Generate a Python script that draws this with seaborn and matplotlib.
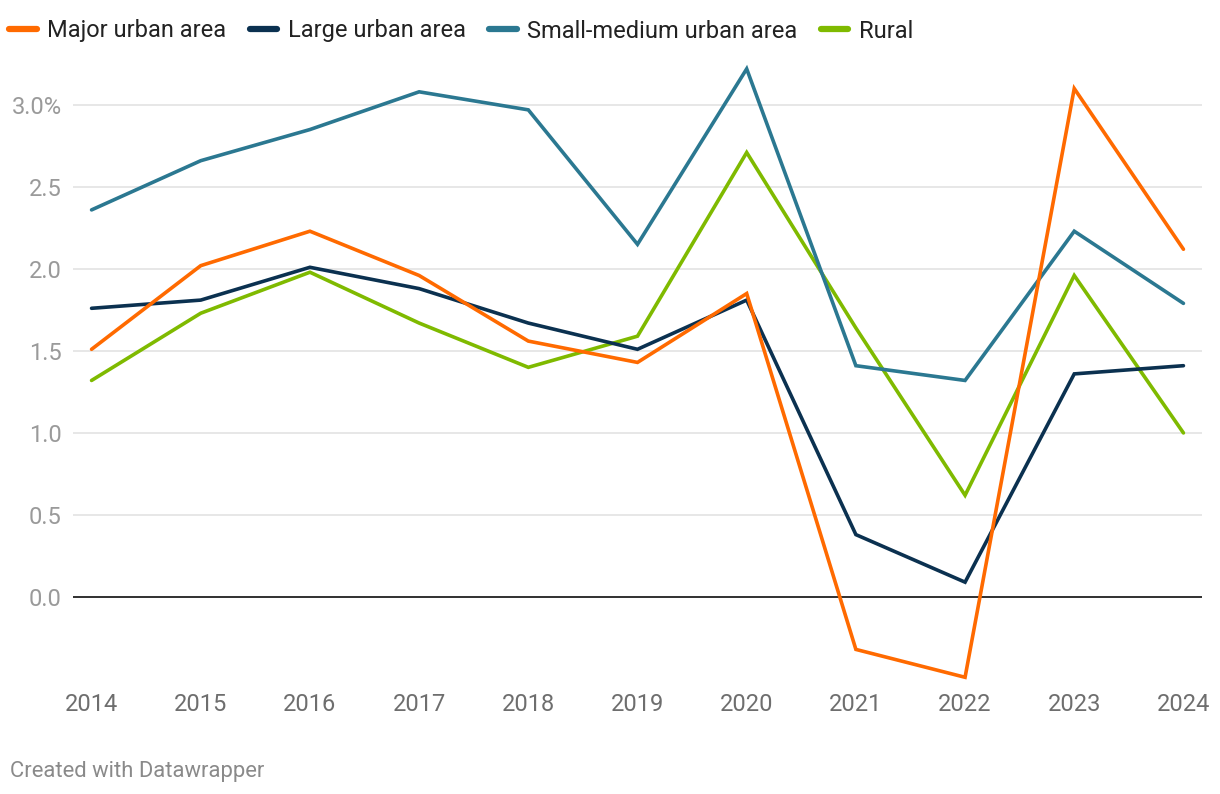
import pandas as pd
import matplotlib.pyplot as plt
import seaborn as sns
from matplotlib.lines import Line2D
from matplotlib.ticker import FuncFormatter

years = list(range(2014, 2025))
major_urban = [1.51, 2.02, 2.23, 1.96, 1.56, 1.43, 1.85, -0.32, -0.49, 3.10, 2.12]
large_urban = [1.76, 1.81, 2.01, 1.88, 1.67, 1.51, 1.81, 0.38, 0.09, 1.36, 1.41]
small_medium = [2.36, 2.66, 2.85, 3.08, 2.97, 2.15, 3.22, 1.41, 1.32, 2.23, 1.79]
rural = [1.32, 1.73, 1.98, 1.67, 1.40, 1.59, 2.71, 1.64, 0.62, 1.96, 1.00]

series_names = ["Major urban area", "Large urban area", "Small-medium urban area", "Rural"]
colors = {"Major urban area": "#ff6a00", "Large urban area": "#0b3150",
          "Small-medium urban area": "#2b7891", "Rural": "#7fba00"}

df = pd.DataFrame({"year": years * 4,
                   "value": major_urban + large_urban + small_medium + rural,
                   "series": sum([[n] * len(years) for n in series_names], [])})

sns.set_theme(style="white")
plt.rcParams['font.family'] = ['Roboto', 'DejaVu Sans']

fig = plt.figure(figsize=(12.2, 7.94), dpi=100)
ax = fig.add_axes([73 / 1220, 1 - 685 / 794, (1202 - 73) / 1220, (685 - 60) / 794])

# draw order: major urban on top
draw_order = ["Rural", "Large urban area", "Small-medium urban area", "Major urban area"]
sns.lineplot(data=df, x="year", y="value", hue="series", hue_order=draw_order,
             palette=colors, linewidth=2.6, ax=ax, legend=False)
for line in ax.get_lines():
    line.set_solid_capstyle("round")
    line.set_solid_joinstyle("miter")

ax.set_xlim(2013.83, 2024.17)
ax.set_ylim(-0.537, 3.274)
ax.set_yticks([0, 0.5, 1.0, 1.5, 2.0, 2.5, 3.0])
ax.set_xticks(years)
ax.yaxis.set_major_formatter(FuncFormatter(lambda v, p: "3.0%" if abs(v - 3) < 1e-9 else f"{v:.1f}"))
ax.grid(axis="y", color="#e3e3e3", linewidth=1.2, zorder=0)
ax.axhline(0, color="#222222", linewidth=1.3, zorder=1)
for s in ax.spines.values():
    s.set_visible(False)
ax.tick_params(axis="y", length=0, pad=8, labelsize=17, labelcolor="#9a9a9a")
ax.tick_params(axis="x", length=0, pad=6, labelsize=17, labelcolor="#6e6e6e")
ax.set_xlabel("")
ax.set_ylabel("")

handles = [Line2D([0], [0], color=colors[n], linewidth=4.5, solid_capstyle="round") for n in series_names]
fig.legend(handles, series_names, loc="center left", bbox_to_anchor=(0.0, 1 - 31 / 794),
           ncol=4, frameon=False, fontsize=17, handlelength=1.15, handletextpad=0.45,
           columnspacing=1.0, borderaxespad=0, labelcolor="#222222")

fig.text(10 / 1220, 1 - 771 / 794, "Created with Datawrapper", fontsize=15.8,
         color="#8a8a8a", va="center", ha="left")

fig.savefig("out.png", dpi=100)
